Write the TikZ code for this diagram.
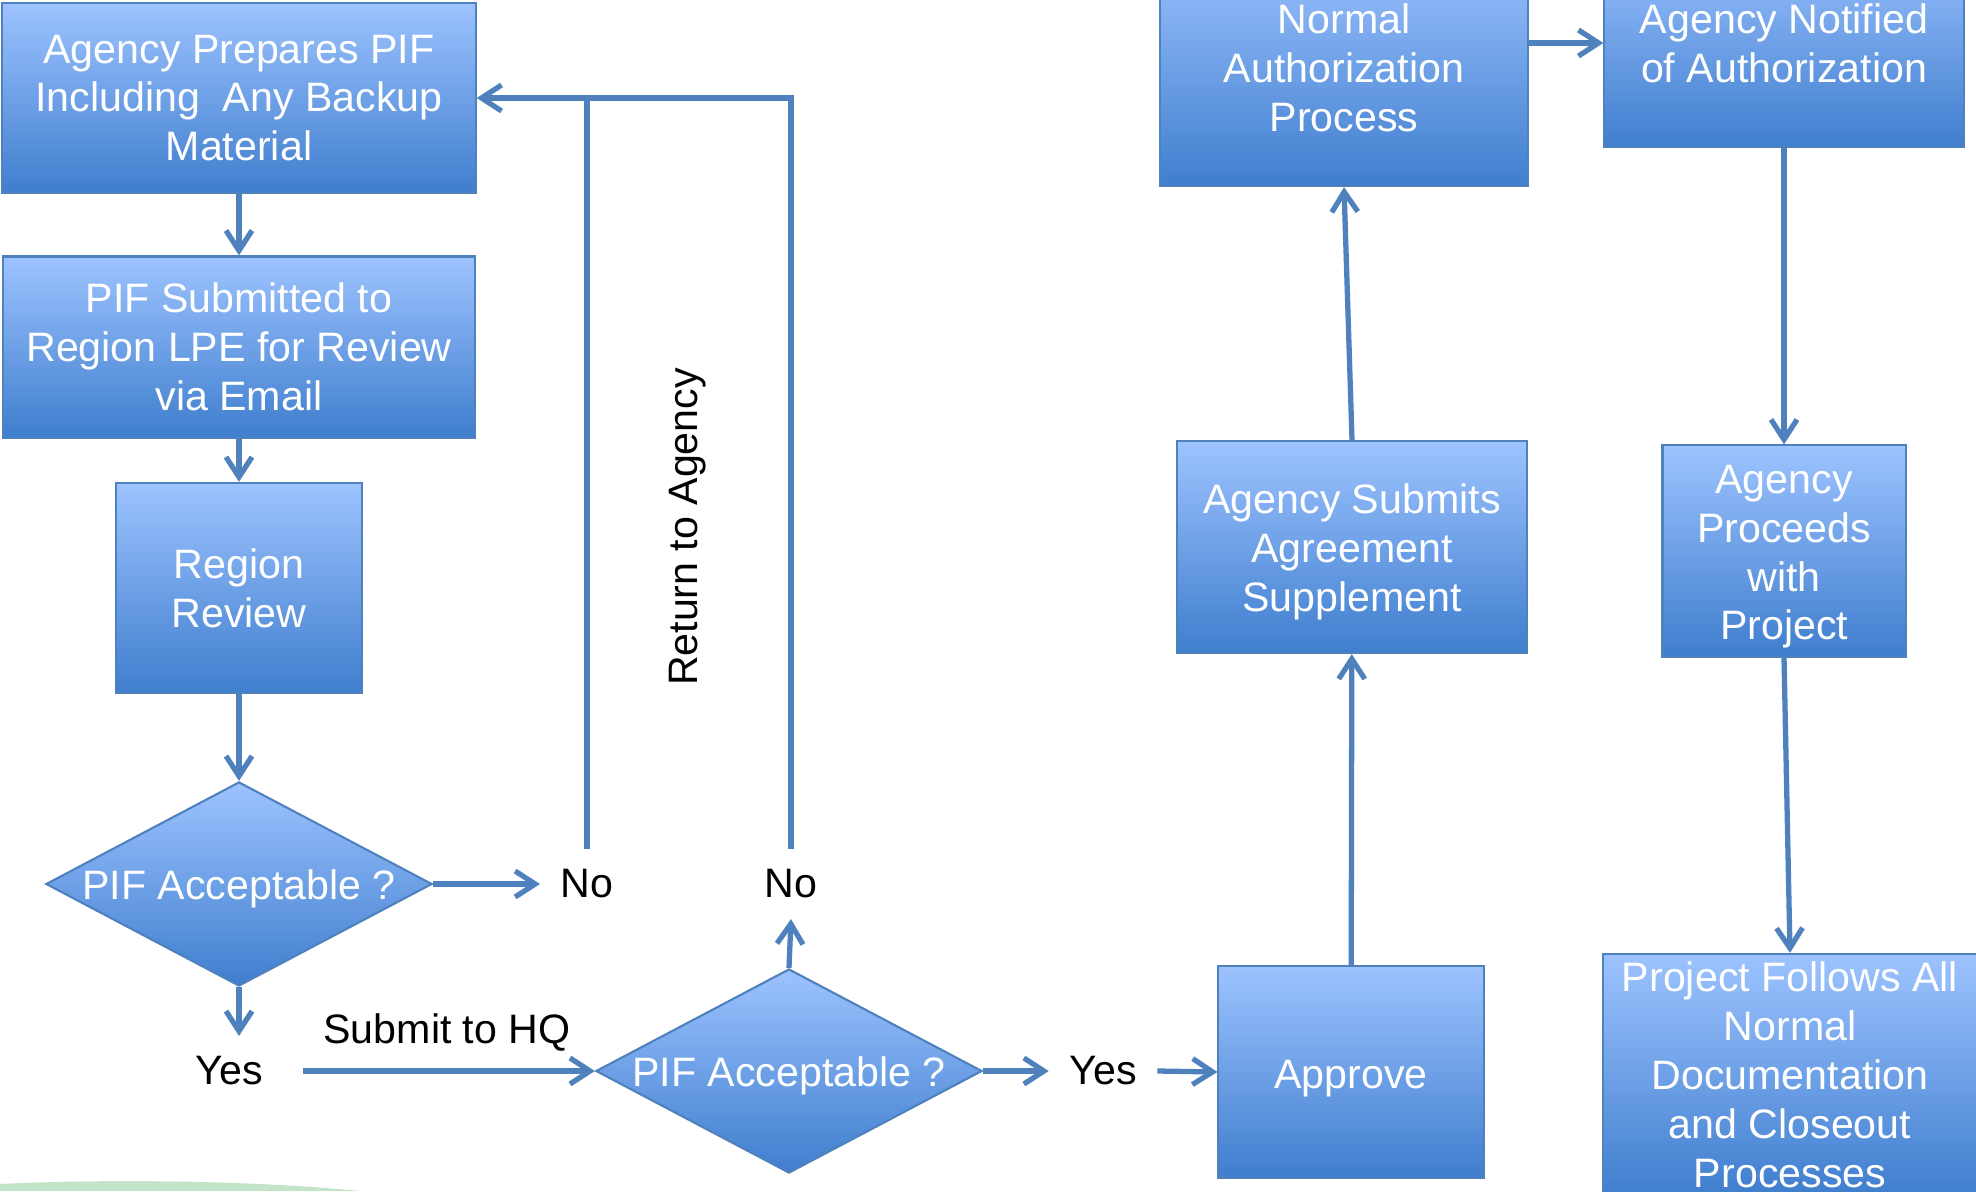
\documentclass[tikz,border=0pt]{standalone}
\usepackage{fontspec}
\setmainfont{Liberation Sans}
\usetikzlibrary{shapes.geometric,arrows.meta}
\definecolor{boxTop}{HTML}{9DC3FF}
\definecolor{boxBottom}{HTML}{3F7ECE}
\definecolor{penColor}{HTML}{4F81BD}
\definecolor{bandColor}{HTML}{C4E4C9}
\newcommand{\lowerby}[1]{\rule{0pt}{#1}}% taller first line pushes text down
\tikzset{>={Straight Barb[length=2mm,width=2.6mm]}}
\tikzset{
  procbox/.style={draw=penColor, line width=0.6pt, top color=boxTop, bottom color=boxBottom,
    text=white, align=center, inner sep=0pt},
  decision/.style={diamond, draw=penColor, line width=0.6pt, top color=boxTop, bottom color=boxBottom,
    text=white, inner sep=0pt, minimum width=3.86cm, minimum height=2.04cm},
  lbl/.style={text=black, inner sep=2mm},
  flow/.style={->, penColor, line width=1.5pt},
  plain/.style={penColor, line width=1.5pt},
}

\begin{document}
\begin{tikzpicture}[x=0.01cm,y=-0.01cm,font=\fontsize{11.7}{13.9}\selectfont]
\useasboundingbox (0,0) rectangle (1976,1191);
% faint band in the corner
\fill[bandColor] (0,1184) .. controls (100,1179) and (250,1180) .. (360,1191) -- (0,1191) -- cycle;

% left column
\node[procbox, minimum width=4.73cm, minimum height=1.90cm] (prep) at (239,98) {Agency Prepares PIF\\Including\ \ Any Backup\\Material};
\node[procbox, minimum width=4.71cm, minimum height=1.81cm] (submit) at (239,347) {PIF Submitted to\\Region LPE for Review\\via Email};
\node[procbox, minimum width=2.45cm, minimum height=2.10cm] (review) at (239,588) {Region\\Review};
\node[decision] (dia1) at (239,884) {\raisebox{-4.3pt}[0pt][0pt]{\makebox[0pt]{PIF Acceptable ?}}};
\node[lbl] (no1) at (587,884) {No};
\node[lbl] (yes1) at (229,1071) {Yes};
\node[lbl] (hq) at (447,1032) {Submit to HQ};
\node[decision] (dia2) at (789,1071) {\raisebox{-4.3pt}[0pt][0pt]{\makebox[0pt]{PIF Acceptable ?}}};
\node[lbl] (no2) at (791,884) {No};
\node[lbl, rotate=90] (ret) at (688,527) {Return to Agency};
\node[lbl] (yes2) at (1103,1071) {Yes};

% right side
\node[procbox, minimum width=2.65cm, minimum height=2.12cm] (approve) at (1351,1072) {\lowerby{12pt}Approve};
\node[procbox, minimum width=3.50cm, minimum height=2.12cm] (suppl) at (1352,547) {\lowerby{11.3pt}Agency Submits\\Agreement\\Supplement};
\node[procbox, minimum width=3.67cm, minimum height=2.36cm] (normal) at (1344,68) {Normal\\Authorization\\Process};
\node[procbox, minimum width=3.59cm, minimum height=2.08cm] (notified) at (1784,43) {Agency Notified\\of Authorization};
\node[procbox, minimum width=2.43cm, minimum height=2.11cm] (proceeds) at (1784,551) {\lowerby{11.3pt}Agency\\Proceeds\\with\\Project};
\node[procbox, minimum width=3.74cm, minimum height=2.42cm] (follows) at (1790,1075) {Project Follows All\\Normal\\Documentation\\and Closeout\\Processes};

% connectors
\draw[flow] (prep) -- (submit);
\draw[flow] (submit) -- (review);
\draw[flow] (review) -- (dia1);
\draw[flow] (dia1.east) -- (no1.west);
\draw[flow] (dia1.south) -- (yes1.north -| dia1.south);
\draw[flow, shorten <=2mm] (yes1.east) -- (dia2.west);
\draw[flow] (dia2.north) -- (no2.south);
\draw[flow] (no2.north) |- (prep.east);
\draw[plain] (no1.north) -- (no1.north |- prep.east);
\draw[flow] (dia2.east) -- (yes2.west);
\draw[flow] (yes2.east) -- (approve.west);
\draw[flow] (approve) -- (suppl);
\draw[flow] (suppl.north) -- (normal.south);
\draw[flow] (notified.west -| normal.east) -- (notified.west);
\draw[flow] (notified) -- (proceeds);
\draw[flow] (proceeds.south) -- (follows.north);
\end{tikzpicture}
\end{document}
